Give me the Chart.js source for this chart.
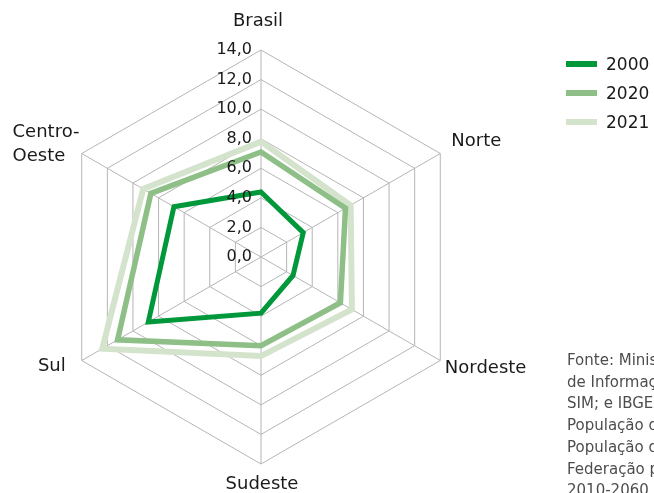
<!DOCTYPE html>
<html>
<head>
<meta charset="utf-8">
<script src="https://cdn.jsdelivr.net/npm/chart.js@4"></script>
<style>
  html, body { margin: 0; padding: 0; background: #fff; overflow: hidden; }
  #wrap { position: relative; width: 654px; height: 493px; overflow: hidden; }
  #legend { position: absolute; left: 566px; top: 49px; font-family: 'DejaVu Sans'; font-size: 17px; color: #1a1a1a; }
  .item { display: flex; align-items: center; height: 29px; white-space: nowrap; }
  .swatch { width: 31px; height: 6px; margin-right: 9px; }
  #source { position: absolute; left: 567px; top: 350px; white-space: nowrap; font-family: 'DejaVu Sans'; font-size: 15px; line-height: 21.7px; color: #4d4d4d; }
</style>
</head>
<body>
<div id="wrap">
  <canvas id="myChart" width="654" height="493"></canvas>
  <div id="legend"></div>
  <div id="source">
    Fonte: Ministério da Saúde/SVS - Sistema<br>
    de Informações sobre Mortalidade -<br>
    SIM; e IBGE - Projeções da<br>
    População do Brasil e<br>
    População das Unidades da<br>
    Federação por sexo e idade:<br>
    2010-2060 (revisão 2018).
  </div>
</div>
<script>
const regions = ['Brasil', 'Norte', 'Nordeste', 'Sudeste', 'Sul', ['Centro-', 'Oeste']];
const years = ['2000', '2020', '2021'];
const values2000 = [4.4, 3.3, 2.5, 3.8, 8.8, 6.8];
const values2020 = [7.1, 6.6, 6.2, 6.0, 11.2, 8.6];
const values2021 = [7.8, 7.0, 7.1, 6.7, 12.4, 9.2];
const scaleMax = 14;
const tickStep = 2;

const colors = ['#00983a', '#8dbf87', '#d4e3cb'];
const widths = [5, 5.5, 6];
const textColor = '#1a1a1a';
const gridColor = '#b5b5b5';

// where each region name sits, relative to its outer vertex
const labelPlace = [
  {align: 'center', dx: -3, dy: -28.5},
  {align: 'left', dx: 11, dy: -12},
  {align: 'left', dx: 4.6, dy: 7.7},
  {align: 'center', dx: 1, dy: 20.5},
  {align: 'right', dx: -16, dy: 6.2},
  {align: 'left', dx: -69.2, dy: -21},
];

function fmt(v) {
  return v.toFixed(1).replace('.', ',');
}

const labelPlugin = {
  id: 'radarText',
  afterDatasetsDraw(chart) {
    const ctx = chart.ctx;
    const r = chart.scales.r;
    ctx.save();
    ctx.fillStyle = textColor;
    ctx.textBaseline = 'middle';

    ctx.font = '16px "DejaVu Sans"';
    ctx.textAlign = 'right';
    r.ticks.forEach(t => {
      const d = r.getDistanceFromCenterForValue(t.value);
      ctx.fillText(fmt(t.value), r.xCenter - 9, r.yCenter - d);
    });

    ctx.font = '18px "DejaVu Sans"';
    regions.forEach((lab, i) => {
      const p = r.getPointPosition(i, r.drawingArea);
      const s = labelPlace[i];
      ctx.textAlign = s.align;
      [].concat(lab).forEach((line, k) => {
        ctx.fillText(line, p.x + s.dx, p.y + s.dy + k * 23.5);
      });
    });
    ctx.restore();
  }
};

const seriesValues = [values2000, values2020, values2021];

const data = {
  labels: regions,
  datasets: years.map((y, i) => ({
    label: y,
    data: seriesValues[i],
    borderColor: colors[i],
    backgroundColor: colors[i],
    borderWidth: widths[i],
    pointRadius: 0,
    fill: false,
    tension: 0,
  })),
};

const config = {
  type: 'radar',
  data: data,
  options: {
    responsive: false,
    animation: false,
    layout: { padding: { left: 54, right: 185, top: 50, bottom: 28 } },
    plugins: {
      legend: { display: false },
      tooltip: { enabled: false },
    },
    scales: {
      r: {
        min: 0,
        max: scaleMax,
        ticks: { stepSize: tickStep, display: false },
        grid: { color: gridColor, lineWidth: 1 },
        angleLines: { color: gridColor, lineWidth: 1 },
        pointLabels: { display: false },
      }
    }
  },
  plugins: [labelPlugin],
};

new Chart(document.getElementById('myChart').getContext('2d'), config);

// legend built from the same series
const legend = document.getElementById('legend');
years.forEach((y, i) => {
  const item = document.createElement('div');
  item.className = 'item';
  item.innerHTML = '<span class="swatch" style="background:' + colors[i] + '"></span>' + y;
  legend.appendChild(item);
});
</script>
</body>
</html>
